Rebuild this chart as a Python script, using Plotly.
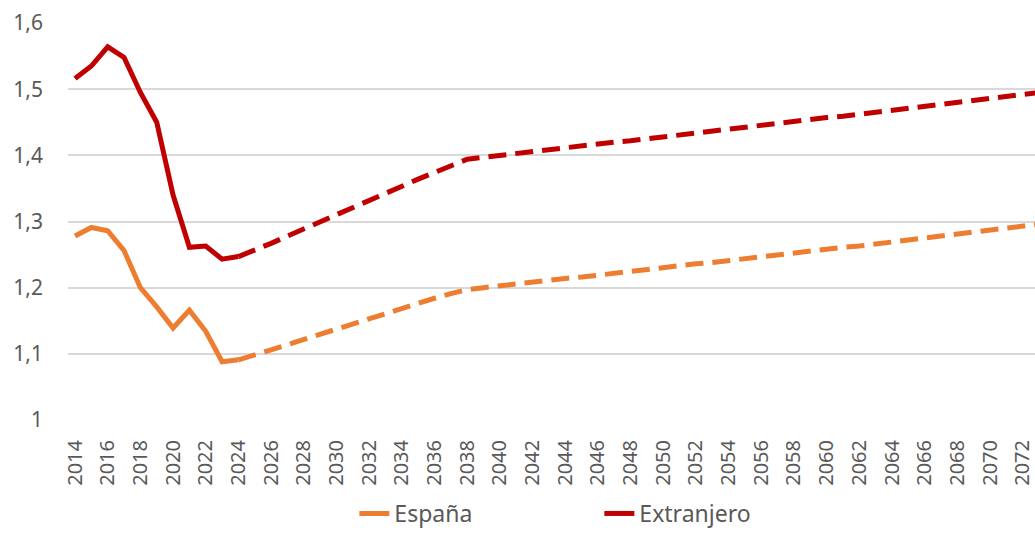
"""
plot.py — Proyección: España vs Extranjero
"""
import plotly.graph_objects as go


ANIOS = list(range(2014, 2074))
ULTIMO_REAL = 2024
Y_TICKS = [1.0, 1.1, 1.2, 1.3, 1.4, 1.5, 1.6]

ESPANA = [
    1.278, 1.291, 1.286, 1.256, 1.200, 1.171, 1.139, 1.166, 1.134, 1.088,
    1.091, 1.098, 1.106, 1.114, 1.122, 1.130, 1.137, 1.145, 1.153, 1.161,
    1.169, 1.177, 1.184, 1.191, 1.197, 1.200, 1.203, 1.205, 1.208, 1.211,
    1.214, 1.216, 1.219, 1.222, 1.225, 1.227, 1.230, 1.233, 1.236, 1.238,
    1.241, 1.244, 1.247, 1.249, 1.252, 1.255, 1.258, 1.261, 1.263, 1.266,
    1.269, 1.272, 1.275, 1.278, 1.281, 1.284, 1.287, 1.290, 1.293, 1.296,
]

EXTRANJERO = [
    1.516, 1.535, 1.564, 1.548, 1.495, 1.450, 1.340, 1.261, 1.263, 1.243,
    1.247, 1.256, 1.267, 1.278, 1.289, 1.300, 1.311, 1.322, 1.332, 1.342,
    1.353, 1.364, 1.374, 1.385, 1.394, 1.397, 1.400, 1.403, 1.406, 1.409,
    1.412, 1.414, 1.417, 1.420, 1.422, 1.425, 1.427, 1.430, 1.433, 1.436,
    1.439, 1.442, 1.445, 1.448, 1.451, 1.454, 1.457, 1.459, 1.462, 1.465,
    1.468, 1.471, 1.474, 1.477, 1.480, 1.483, 1.486, 1.489, 1.492, 1.495,
]

SERIES = [("España", ESPANA, "#ED7D31"), ("Extranjero", EXTRANJERO, "#C00000")]

_TEXTO = "#595959"
_FUENTE = "Noto Sans, Open Sans, sans-serif"


def _tramos(valores):
    """Separa la serie en tramo observado (sólido) y proyectado (discontinuo)."""
    real = [(a, v) for a, v in zip(ANIOS, valores) if a <= ULTIMO_REAL]
    proy = [(a, v) for a, v in zip(ANIOS, valores) if a >= ULTIMO_REAL]
    return real, proy


fig = go.Figure()
for nombre, valores, color in SERIES:
    real, proy = _tramos(valores)
    fig.add_trace(
        go.Scatter(
            x=[a for a, _ in real],
            y=[v for _, v in real],
            mode="lines",
            name=nombre,
            legendgroup=nombre,
            line=dict(color=color, width=5),
        )
    )
    fig.add_trace(
        go.Scatter(
            x=[a for a, _ in proy],
            y=[v for _, v in proy],
            mode="lines",
            name=nombre,
            legendgroup=nombre,
            showlegend=False,
            line=dict(color=color, width=5, dash="18px,9px"),
        )
    )

fig.update_layout(
    width=1035,
    height=535,
    plot_bgcolor="white",
    paper_bgcolor="white",
    separators=",.",
    font=dict(family=_FUENTE, color=_TEXTO, size=20),
    margin=dict(l=68, r=0, t=22, b=108),
    showlegend=True,
    legend=dict(
        orientation="h",
        x=0.5495,
        xanchor="center",
        y=-0.232,
        yanchor="middle",
        font=dict(size=23, color=_TEXTO),
        entrywidth=200,
    ),
    xaxis=dict(
        range=[2013.57, 2072.75],
        tickvals=ANIOS[::2],
        tickangle=-90,
        showgrid=False,
        zeroline=False,
        showline=False,
        ticks="",
        automargin=False,
        ticklabeloverflow="allow",
        ticklabelstandoff=14,
        tickfont=dict(size=20, color=_TEXTO),
    ),
    yaxis=dict(
        range=[0.9985, 1.6015],
        tickvals=Y_TICKS,
        gridcolor="#D9D9D9",
        gridwidth=1.5,
        zeroline=False,
        showline=False,
        ticks="",
        automargin=False,
        ticklabelstandoff=24,
        tickfont=dict(size=21, color=_TEXTO),
    ),
)

# sin margen en el body para que el lienzo ocupe la ventana exacta
fig.write_html(
    "out.html",
    config={"displayModeBar": False},
    post_script="document.body.style.margin='0';document.body.style.overflow='hidden';",
)
